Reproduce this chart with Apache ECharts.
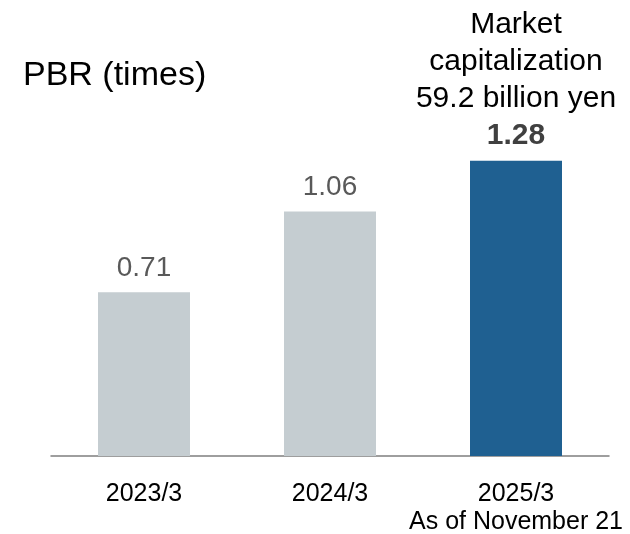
<!DOCTYPE html>
<html>
<head>
<meta charset="utf-8">
<script src="https://cdn.jsdelivr.net/npm/echarts@6/dist/echarts.min.js"></script>
<style>html,body{margin:0;padding:0;background:#fff}#c{width:630px;height:534px}</style>
</head>
<body>
<div id="c"></div>
<script>
const categories = ['2023/3', '2024/3', '2025/3\nAs of November 21'];
const pbrValues = [0.71, 1.06, 1.28];
const barColors = ['#c5cdd1', '#c5cdd1', '#1f6091'];
const titleText = 'PBR (times)';
const noteLines = ['Market', 'capitalization', '59.2 billion yen'];

const chart = echarts.init(document.getElementById('c'), null, {renderer: 'canvas'});
const FONT = 'Liberation Sans, Arial, sans-serif';

const data = pbrValues.map((v, i) => {
  const item = { value: v, itemStyle: { color: barColors[i] } };
  if (i === pbrValues.length - 1) {
    item.label = {
      distance: 7,
      formatter: () => noteLines.map(t => '{n|' + t + '}').join('\n') + '\n{b|' + v.toFixed(2) + '}',
      rich: {
        n: { fontSize: 30, color: '#000', lineHeight: 37, fontFamily: FONT },
        b: { fontSize: 30, color: '#404040', fontWeight: 'bold', lineHeight: 37, fontFamily: FONT }
      }
    };
  }
  return item;
});

chart.setOption({
  animation: false,
  title: {
    text: titleText, left: 18, top: 54,
    textStyle: { fontSize: 34, fontWeight: 'normal', color: '#000', fontFamily: FONT }
  },
  grid: { left: 51, right: 21, top: 110, bottom: 78, containLabel: false, outerBoundsMode: 'none' },
  xAxis: {
    type: 'category', data: categories,
    axisLine: { lineStyle: { color: '#7f7f7f', width: 1.5 } },
    axisTick: { show: false },
    axisLabel: { fontSize: 25, color: '#000', lineHeight: 28, margin: 24, fontFamily: FONT, interval: 0 }
  },
  yAxis: { type: 'value', min: 0, max: 1.5, show: false, splitLine: { show: false } },
  series: [{
    type: 'bar', data: data, barWidth: 92,
    label: {
      show: true, position: 'top', distance: 10,
      fontSize: 28, color: '#595959', fontFamily: FONT,
      formatter: p => p.value.toFixed(2)
    }
  }]
});
</script>
</body>
</html>
